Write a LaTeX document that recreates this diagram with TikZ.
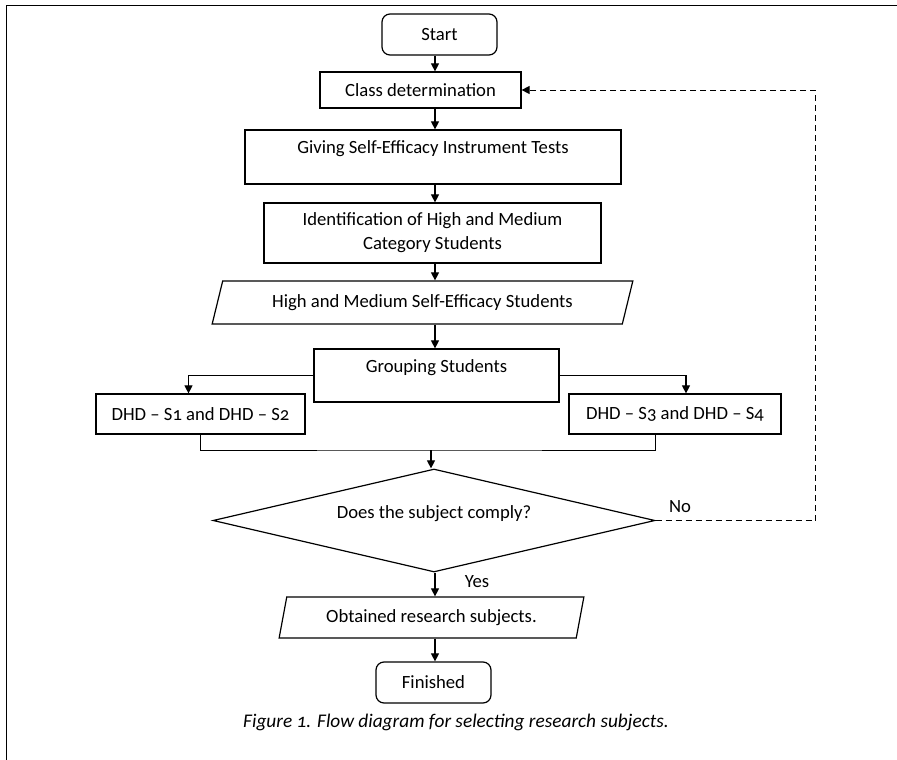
\documentclass[tikz,border=0pt]{standalone}
\usepackage{fontspec}
\setmainfont{Carlito}[Numbers=OldStyle]
\usetikzlibrary{shapes.geometric,arrows.meta}

\tikzset{
  box/.style={draw,line width=0.9pt,minimum height=30pt},
  term/.style={box,rounded corners=6pt,minimum width=86.25pt,minimum height=30.75pt},
  io/.style={box,trapezium,trapezium stretches=true},
  toptext/.style={text height=9pt,text depth=14pt},
  arr/.style={line width=0.8pt,-{Triangle[length=6pt,width=6pt]}},
  link/.style={line width=0.6pt},
}

\begin{document}
\begin{tikzpicture}[x=0.75pt,y=-0.75pt,font=\fontsize{14pt}{18pt}\selectfont]

  \useasboundingbox (0,0) rectangle (897,760);
  \draw[line width=0.6pt] (897,5) -- (6,5) -- (6,760);

  \coordinate (spine) at (435,0);
  \coordinate (join) at (431,450);

  \node[term] (start) at (439.5,34.5) {Start};
  \node[box,minimum width=150.75pt,minimum height=27pt] (class) at (420.5,90) {Class determination};
  \node[box,toptext,minimum width=282pt,minimum height=40.5pt] (giving) at (433,157) {Giving Self-Efficacy Instrument Tests};
  \node[box,align=center,minimum width=252.75pt,minimum height=45pt] (ident) at (432.5,233) {Identification of High and Medium\\Category Students};
  \node[io,trapezium left angle=72,trapezium right angle=108,minimum width=315.75pt,minimum height=32.25pt] (high) at (422.5,302.5) {High and Medium Self-Efficacy Students};
  \node[box,toptext,minimum width=183.75pt,minimum height=39.75pt] (group) at (436.5,375.5) {Grouping Students};
  \node[box,minimum width=156.75pt] (s12) at (200.5,414) {DHD -- S1 and DHD -- S2};
  \node[box,minimum width=159pt] (s34) at (675,414) {DHD -- S3 and DHD -- S4};
  \node[draw,diamond,shape aspect=4.3,line width=0.9pt,inner sep=0pt,text height=9pt,text depth=12pt,minimum width=331.5pt,minimum height=77.25pt] (check) at (434,520.5) {Does the subject comply?};
  \node[io,trapezium left angle=77,trapezium right angle=103,minimum width=228.75pt,minimum height=30.75pt] (got) at (431.5,617.5) {Obtained research subjects.};
  \node[term] (finish) at (433.5,682.5) {Finished};

  \node (no) at (680,507) {No};
  \node (yes) at (477,582) {Yes};
  \node[font=\fontsize{14.5pt}{16pt}\selectfont\itshape] (caption) at (456,722) {Figure 1. Flow diagram for selecting research subjects.};

  \draw[arr] (start.south -| spine) -- (class.north -| spine);
  \draw[arr] (class.south -| spine) -- (giving.north -| spine);
  \draw[arr] (giving.south -| spine) -- (ident.north -| spine);
  \draw[arr] (ident.south -| spine) -- (high.north -| spine);
  \draw[arr] (high.south -| spine) -- (group.north -| spine);
  \draw[arr] (group.west) -| ([xshift=-9pt]s12.north);
  \draw[arr] (group.east) -| ([xshift=8.25pt]s34.north);
  \draw[link] (s12.south) |- (join) -| ([xshift=-15pt]s34.south);
  \draw[arr] (join) -- (check.north -| join);
  \draw[arr] (check.south -| spine) -- (got.north -| spine);
  \draw[arr] (got.south -| spine) -- (finish.north -| spine);
  \draw[arr,dash pattern=on 4.5pt off 3pt,line width=0.75pt] (check.east) -- ++(160,0) |- (class.east);

\end{tikzpicture}
\end{document}
